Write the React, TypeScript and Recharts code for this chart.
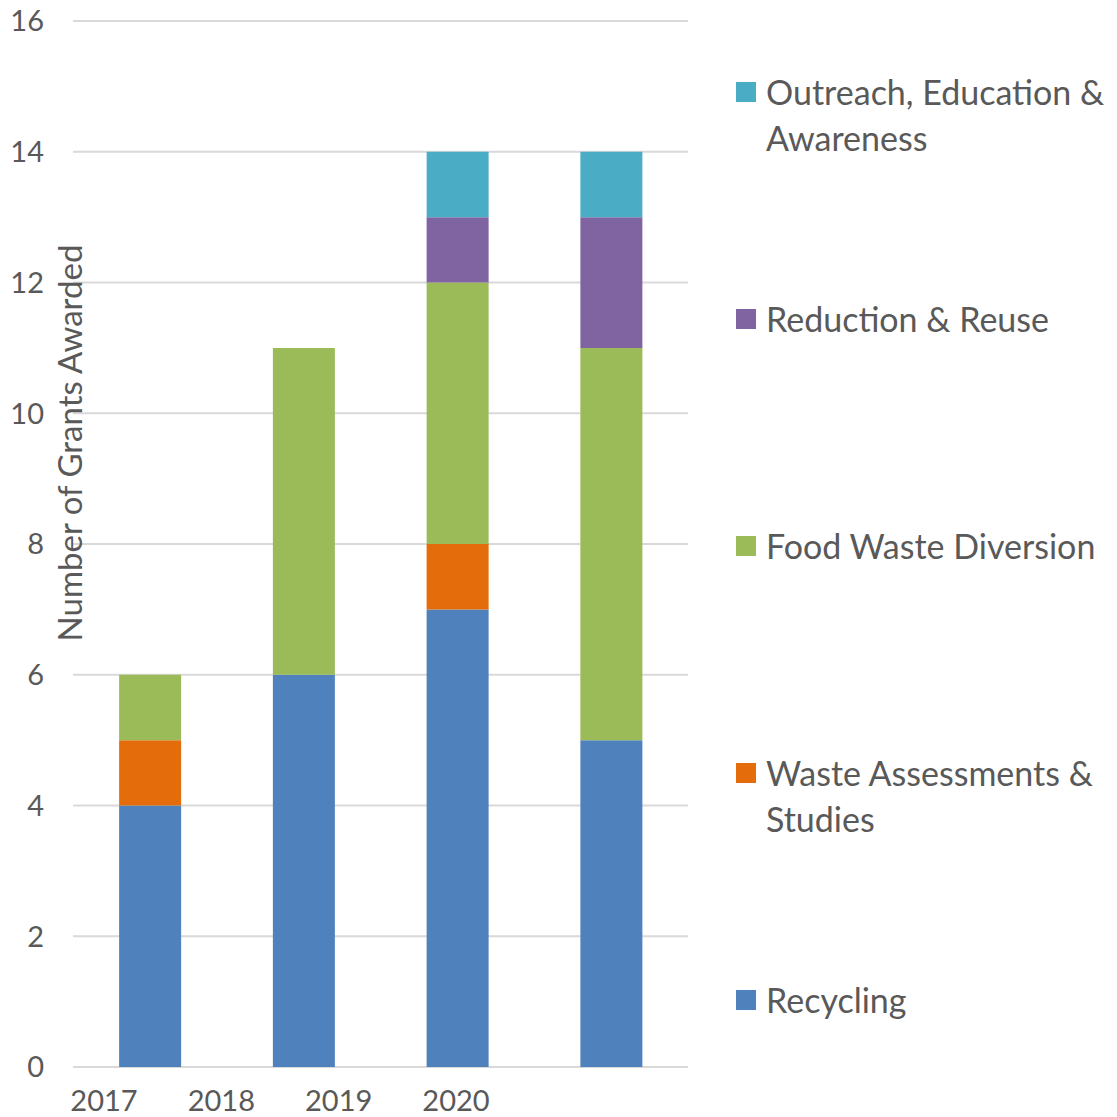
import React from "react";
import {
  BarChart,
  Bar,
  XAxis,
  YAxis,
  CartesianGrid,
  Legend,
  Label,
} from "recharts";

// categories (one per bar) and the value ticks
const years = [2017, 2018, 2019, 2020];
const yTicks = [0, 2, 4, 6, 8, 10, 12, 14, 16];

// series values, bottom to top
const recycling = [4, 6, 7, 5];
const wasteAssessments = [1, 0, 1, 0];
const foodWaste = [1, 5, 4, 6];
const reductionReuse = [0, 0, 1, 2];
const outreach = [0, 0, 1, 1];

const series = [
  { key: "recycling", name: "Recycling", color: "#4F81BD", values: recycling },
  { key: "waste", name: "Waste Assessments & Studies", color: "#E46C0A", values: wasteAssessments },
  { key: "food", name: "Food Waste Diversion", color: "#9BBB59", values: foodWaste },
  { key: "reduction", name: "Reduction & Reuse", color: "#8064A2", values: reductionReuse },
  { key: "outreach", name: "Outreach, Education & Awareness", color: "#4BACC6", values: outreach },
];

const data = years.map((year, i) => {
  const row: Record<string, any> = { year };
  series.forEach((s) => (row[s.key] = s.values[i]));
  return row;
});

const FONT = "Lato, 'Open Sans', sans-serif";
const TEXT = "#595959";

const LegendList = () => {
  const items = [...series].reverse();
  return (
    <div style={{ fontFamily: FONT, color: TEXT, fontSize: 34, paddingTop: 69 }}>
      {items.map((s) => (
        <div key={s.key} style={{ height: 227, display: "flex", alignItems: "flex-start" }}>
          <div
            style={{
              width: 20,
              height: 20,
              background: s.color,
              marginTop: 13,
              marginRight: 10,
              flexShrink: 0,
            }}
          />
          <div style={{ lineHeight: "46px", width: 350 }}>{s.name}</div>
        </div>
      ))}
    </div>
  );
};

const YTitle = () => (
  <text
    x={82}
    y={443}
    transform="rotate(-90, 82, 443)"
    textAnchor="middle"
    fill={TEXT}
    fontSize={33}
    fontFamily={FONT}
  >
    Number of Grants Awarded
  </text>
);

export default function App() {
  return (
    <div style={{ position: "absolute", left: 0, top: 0, background: "#fff" }}>
      <BarChart
        width={1117}
        height={1117}
        data={data}
        margin={{ top: 21, right: 48, left: 0, bottom: 0 }}
        barCategoryGap="30%"
      >
        <CartesianGrid vertical={false} stroke="#d9d9d9" strokeWidth={2} />
        <XAxis
          dataKey="year"
          tick={false}
          tickLine={false}
          axisLine={{ stroke: "#d9d9d9", strokeWidth: 2 }}
          height={0}
        />
        {/* year labels sit offset from the bars, as in the source chart */}
        <XAxis
          xAxisId="yr"
          dataKey="year"
          scale="point"
          padding={{ left: 31, right: 232 }}
          axisLine={false}
          tickLine={false}
          height={50}
          tickMargin={17}
          interval={0}
          tick={{ fill: TEXT, fontSize: 29, fontFamily: FONT }}
        />
        <YAxis
          width={73}
          domain={[0, 16]}
          ticks={yTicks}
          axisLine={false}
          tickLine={false}
          tickMargin={23}
          tick={{ fill: TEXT, fontSize: 29, fontFamily: FONT }}
        >
          <Label content={<YTitle />} />
        </YAxis>
        <Legend
          content={<LegendList />}
          layout="vertical"
          verticalAlign="top"
          align="right"
          wrapperStyle={{ left: 736, top: 0, width: 381 }}
        />
        {series.map((s) => (
          <Bar
            key={s.key}
            dataKey={s.key}
            name={s.name}
            stackId="a"
            fill={s.color}
            isAnimationActive={false}
          />
        ))}
      </BarChart>
    </div>
  );
}
